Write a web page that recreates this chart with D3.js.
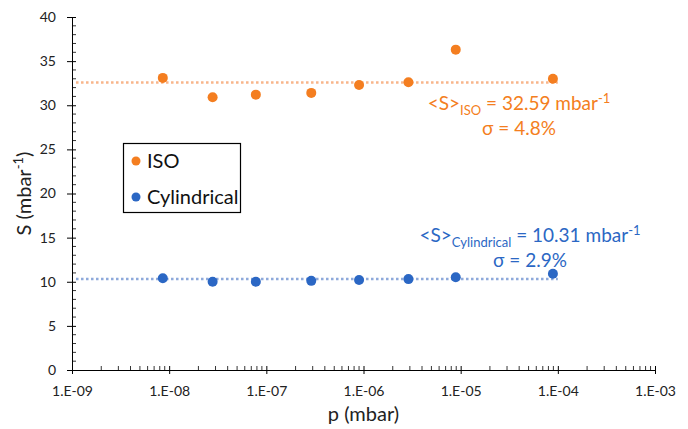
<!DOCTYPE html>
<html>
<head>
<meta charset="utf-8">
<script src="https://cdn.jsdelivr.net/npm/d3@7"></script>
<style>
  body { margin: 0; background: #fff; }
  text { font-family: Lato, "Open Sans", sans-serif; }
</style>
</head>
<body>
<script>
// pressure values (mbar)
var pressure = [8.6e-9, 2.8e-8, 7.8e-8, 2.9e-7, 9.0e-7, 2.9e-6, 8.9e-6, 8.9e-5];
var isoS = [33.1, 30.9, 31.2, 31.4, 32.3, 32.6, 36.3, 33.0];
var cylS = [10.4, 10.0, 10.0, 10.1, 10.2, 10.3, 10.5, 10.9];
var isoMean = 32.59, cylMean = 10.31;
var meanRange = [1.1e-9, 1.0e-4];
var yTicks = [0, 5, 10, 15, 20, 25, 30, 35, 40];
var xTicks = [1e-9, 1e-8, 1e-7, 1e-6, 1e-5, 1e-4, 1e-3];

var W = 688, H = 429;
var m = {left: 72, right: 33, top: 17, bottom: 59};
var orange = '#F47E20', blue = '#2B67C4';

var svg = d3.select('body').append('svg').attr('width', W).attr('height', H);

var x = d3.scaleLog().domain([1e-9, 1e-3]).range([m.left, W - m.right]);
var y = d3.scaleLinear().domain([0, 40]).range([H - m.bottom, m.top]);

// minor ticks
var yMinor = d3.range(0, 41, 1).filter(function (d) { return d % 5 != 0; });
svg.selectAll('.ymin').data(yMinor).enter().append('line')
  .attr('x1', m.left).attr('x2', m.left + 4)
  .attr('y1', function (d) { return y(d); }).attr('y2', function (d) { return y(d); })
  .attr('stroke', '#000').attr('stroke-width', 0.8);

var xMinor = [];
xTicks.slice(0, -1).forEach(function (t) {
  for (var k = 2; k <= 9; k++) xMinor.push(t * k);
});
svg.selectAll('.xmin').data(xMinor).enter().append('line')
  .attr('x1', function (d) { return x(d); }).attr('x2', function (d) { return x(d); })
  .attr('y1', H - m.bottom).attr('y2', H - m.bottom - 4)
  .attr('stroke', '#000').attr('stroke-width', 0.8);

// axes
var yAxis = svg.append('g').attr('transform', 'translate(' + m.left + ',0)')
  .call(d3.axisLeft(y).tickValues(yTicks).tickSize(5).tickPadding(11));
var xAxis = svg.append('g').attr('transform', 'translate(0,' + (H - m.bottom) + ')')
  .call(d3.axisBottom(x).tickValues(xTicks).tickSize(4).tickPadding(12)
    .tickFormat(function (d) { return '1.E-' + String(-Math.round(Math.log10(d))).padStart(2, '0'); }));

[yAxis, xAxis].forEach(function (g) {
  g.select('.domain').attr('stroke', '#000').attr('stroke-width', 1);
  g.selectAll('.tick line').attr('stroke', '#000');
  g.selectAll('text').attr('font-size', 14).attr('fill', '#222')
    .style('font-family', 'Lato, sans-serif');
});
yAxis.selectAll('.tick line').attr('x2', 4).attr('x1', -5);
xAxis.selectAll('.tick line').attr('y1', -4).attr('y2', 4);

// axis titles
svg.append('text').attr('x', (m.left + W - m.right) / 2).attr('y', 421)
  .attr('text-anchor', 'middle').attr('font-size', 20).attr('fill', '#222').text('p (mbar)');
var yl = svg.append('text').attr('transform', 'translate(31,' + ((m.top + H - m.bottom) / 2) + ') rotate(-90)')
  .attr('text-anchor', 'middle').attr('font-size', 20).attr('fill', '#222');
yl.append('tspan').text('S (mbar');
yl.append('tspan').attr('font-size', 13).attr('dy', -8).text('-1');
yl.append('tspan').attr('dy', 8).text(')');

// mean lines
function meanLine(v, col) {
  svg.append('line')
    .attr('x1', x(meanRange[0])).attr('x2', x(meanRange[1]))
    .attr('y1', y(v)).attr('y2', y(v))
    .attr('stroke', col).attr('stroke-width', 2.5).attr('stroke-dasharray', '2.5,2.5');
}
meanLine(isoMean, '#F8B58A');
meanLine(cylMean, '#8EA9DB');

// points
function pts(vals, col) {
  svg.append('g').selectAll('circle').data(vals).enter().append('circle')
    .attr('cx', function (d, i) { return x(pressure[i]); })
    .attr('cy', function (d) { return y(d); })
    .attr('r', 5).attr('fill', col);
}
pts(isoS, orange);
pts(cylS, blue);

// legend
svg.append('rect').attr('x', 123.5).attr('y', 143.5).attr('width', 117).attr('height', 69)
  .attr('fill', '#fff').attr('stroke', '#000').attr('stroke-width', 1.2);
[['ISO', orange, 161], ['Cylindrical', blue, 197]].forEach(function (l) {
  svg.append('circle').attr('cx', 136).attr('cy', l[2]).attr('r', 4.5).attr('fill', l[1]);
  svg.append('text').attr('x', 147).attr('y', l[2] + 7).attr('font-size', 20)
    .attr('fill', '#111').text(l[0]);
});

// annotations
function note(cx, y1, sub, val, sig, col) {
  var t = svg.append('text').attr('x', cx).attr('y', y1).attr('text-anchor', 'middle')
    .attr('font-size', 19).attr('fill', col);
  t.append('tspan').text('<S>');
  t.append('tspan').attr('font-size', 13).attr('dy', 5).text(sub);
  t.append('tspan').attr('dy', -5).text(' = ' + val + ' mbar');
  t.append('tspan').attr('font-size', 13).attr('dy', -7).text('-1');
  svg.append('text').attr('x', cx).attr('y', y1 + 25).attr('text-anchor', 'middle')
    .attr('font-size', 19).attr('fill', col).text('σ = ' + sig);
}
note(519, 110, 'ISO', isoMean.toFixed(2), '4.8%', orange);
note(530, 242, 'Cylindrical', cylMean.toFixed(2), '2.9%', blue);
</script>
</body>
</html>
